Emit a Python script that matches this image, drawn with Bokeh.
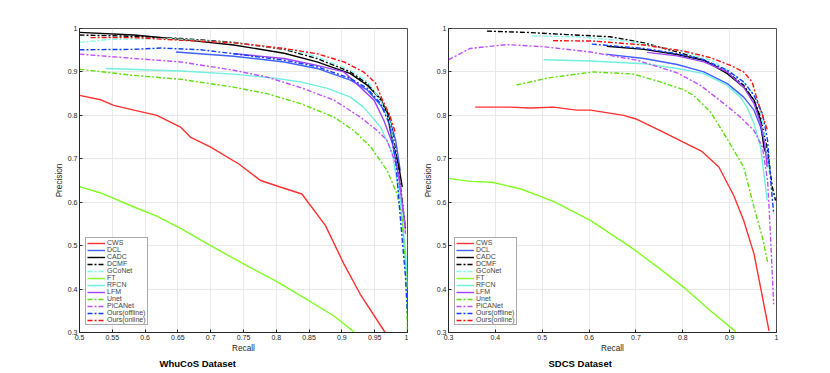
from bokeh.plotting import figure
from bokeh.layouts import row
from bokeh.models import Range1d, FixedTicker, CustomJSTickFormatter, Title
from bokeh.embed import file_html
from bokeh.resources import INLINE

# ---------------- data: WhuCoS dataset (recall / precision) ----------------
WHU_CWS_R = [0.5, 0.532, 0.552, 0.583, 0.618, 0.654, 0.669, 0.70, 0.743, 0.776, 0.806, 0.839, 0.875, 0.903, 0.928, 0.966]
WHU_CWS_P = [0.846, 0.836, 0.823, 0.812, 0.800, 0.773, 0.750, 0.727, 0.688, 0.650, 0.635, 0.619, 0.546, 0.458, 0.388, 0.300]
WHU_DCL_R = [0.647, 0.735, 0.812, 0.862, 0.913, 0.939, 0.959, 0.972, 0.982, 0.989]
WHU_DCL_P = [0.946, 0.936, 0.923, 0.908, 0.881, 0.858, 0.823, 0.796, 0.742, 0.673]
WHU_CADC_R = [0.5, 0.583, 0.654, 0.735, 0.812, 0.862, 0.913, 0.939, 0.959, 0.969, 0.977, 0.987, 0.992]
WHU_CADC_P = [0.991, 0.985, 0.975, 0.962, 0.943, 0.923, 0.896, 0.869, 0.838, 0.804, 0.742, 0.681, 0.635]
WHU_DCMF_R = [0.5, 0.583, 0.654, 0.735, 0.812, 0.862, 0.913, 0.939, 0.959, 0.972, 0.982, 0.992, 0.997]
WHU_DCMF_P = [0.985, 0.982, 0.977, 0.968, 0.952, 0.931, 0.900, 0.873, 0.835, 0.800, 0.719, 0.604, 0.535]
WHU_GCONET_R = [0.5, 0.547, 0.634, 0.735, 0.812, 0.862, 0.913, 0.939, 0.959, 0.974, 0.984, 0.992, 0.997]
WHU_GCONET_P = [0.968, 0.975, 0.977, 0.967, 0.954, 0.935, 0.904, 0.877, 0.835, 0.781, 0.681, 0.565, 0.450]
WHU_FT_R = [0.5, 0.535, 0.583, 0.618, 0.654, 0.70, 0.75, 0.801, 0.837, 0.888, 0.918]
WHU_FT_P = [0.636, 0.620, 0.589, 0.568, 0.540, 0.500, 0.458, 0.417, 0.385, 0.338, 0.302]
WHU_RFCN_R = [0.54, 0.654, 0.735, 0.801, 0.837, 0.878, 0.913, 0.933, 0.959, 0.977, 0.989, 0.997, 1.0]
WHU_RFCN_P = [0.908, 0.902, 0.895, 0.885, 0.877, 0.862, 0.842, 0.819, 0.773, 0.712, 0.604, 0.488, 0.404]
WHU_LFM_R = [0.735, 0.812, 0.862, 0.903, 0.928, 0.949, 0.964, 0.977, 0.987, 0.994, 0.997]
WHU_LFM_P = [0.942, 0.931, 0.915, 0.900, 0.865, 0.835, 0.788, 0.735, 0.658, 0.573, 0.542]
WHU_UNET_R = [0.5, 0.583, 0.654, 0.735, 0.786, 0.837, 0.888, 0.918, 0.944, 0.969, 0.984, 0.992, 0.997, 1.0]
WHU_UNET_P = [0.906, 0.892, 0.883, 0.865, 0.850, 0.827, 0.796, 0.765, 0.727, 0.673, 0.619, 0.558, 0.450, 0.300]
WHU_PICANET_R = [0.5, 0.583, 0.654, 0.735, 0.786, 0.837, 0.888, 0.928, 0.954, 0.969, 0.984, 0.994, 0.997]
WHU_PICANET_P = [0.941, 0.931, 0.923, 0.904, 0.888, 0.864, 0.835, 0.796, 0.765, 0.742, 0.681, 0.573, 0.527]
WHU_OFFLINE_R = [0.5, 0.583, 0.624, 0.685, 0.735, 0.812, 0.862, 0.913, 0.939, 0.959, 0.972, 0.982, 0.989, 0.997, 1.0]
WHU_OFFLINE_P = [0.951, 0.952, 0.955, 0.951, 0.942, 0.927, 0.912, 0.885, 0.862, 0.827, 0.781, 0.696, 0.565, 0.427, 0.342]
WHU_ONLINE_R = [0.517, 0.583, 0.654, 0.735, 0.812, 0.862, 0.903, 0.933, 0.951, 0.961, 0.972, 0.982]
WHU_ONLINE_P = [0.979, 0.979, 0.973, 0.967, 0.954, 0.942, 0.923, 0.900, 0.875, 0.838, 0.804, 0.758]

# ---------------- data: SDCS dataset (recall / precision) ----------------
SD_CWS_R = [0.357, 0.432, 0.475, 0.524, 0.574, 0.603, 0.674, 0.702, 0.752, 0.802, 0.841, 0.877, 0.909, 0.930, 0.952, 0.966, 0.984]
SD_CWS_P = [0.819, 0.819, 0.817, 0.819, 0.812, 0.812, 0.800, 0.791, 0.765, 0.738, 0.717, 0.681, 0.615, 0.558, 0.481, 0.404, 0.304]
SD_DCL_R = [0.635, 0.717, 0.788, 0.845, 0.895, 0.930, 0.952, 0.966, 0.977, 0.984]
SD_DCL_P = [0.941, 0.931, 0.917, 0.900, 0.873, 0.842, 0.812, 0.773, 0.719, 0.681]
SD_CADC_R = [0.638, 0.717, 0.788, 0.845, 0.895, 0.930, 0.952, 0.966, 0.973, 0.980]
SD_CADC_P = [0.959, 0.952, 0.940, 0.927, 0.896, 0.865, 0.835, 0.788, 0.727, 0.704]
SD_DCMF_R = [0.382, 0.467, 0.553, 0.645, 0.717, 0.788, 0.845, 0.895, 0.930, 0.952, 0.966, 0.981, 0.991, 0.998]
SD_DCMF_P = [0.994, 0.991, 0.986, 0.981, 0.967, 0.946, 0.927, 0.900, 0.869, 0.835, 0.796, 0.719, 0.635, 0.604]
SD_GCONET_R = [0.478, 0.574, 0.681, 0.788, 0.859, 0.902, 0.937, 0.959, 0.970, 0.977, 0.984]
SD_GCONET_P = [0.983, 0.981, 0.971, 0.950, 0.927, 0.900, 0.869, 0.835, 0.788, 0.727, 0.665]
SD_FT_R = [0.3, 0.346, 0.393, 0.453, 0.524, 0.603, 0.695, 0.752, 0.802, 0.859, 0.913]
SD_FT_P = [0.655, 0.648, 0.646, 0.631, 0.602, 0.558, 0.492, 0.446, 0.404, 0.350, 0.302]
SD_RFCN_R = [0.503, 0.603, 0.717, 0.788, 0.845, 0.895, 0.923, 0.937, 0.952, 0.966, 0.975, 0.980]
SD_RFCN_P = [0.928, 0.925, 0.919, 0.908, 0.896, 0.869, 0.842, 0.819, 0.781, 0.727, 0.650, 0.604]
SD_LFM_R = [0.724, 0.788, 0.845, 0.895, 0.930, 0.952, 0.966, 0.975, 0.980]
SD_LFM_P = [0.945, 0.937, 0.923, 0.900, 0.865, 0.827, 0.781, 0.735, 0.681]
SD_UNET_R = [0.445, 0.517, 0.610, 0.695, 0.752, 0.802, 0.823, 0.859, 0.888, 0.913, 0.930, 0.952, 0.970, 0.981]
SD_UNET_P = [0.870, 0.887, 0.900, 0.895, 0.877, 0.859, 0.846, 0.808, 0.758, 0.712, 0.681, 0.588, 0.519, 0.462]
SD_PICANET_R = [0.3, 0.346, 0.425, 0.503, 0.603, 0.702, 0.788, 0.838, 0.888, 0.923, 0.952, 0.970, 0.981, 0.987, 0.994]
SD_PICANET_P = [0.928, 0.954, 0.963, 0.958, 0.946, 0.927, 0.898, 0.869, 0.827, 0.796, 0.765, 0.727, 0.650, 0.527, 0.365]
SD_OFFLINE_R = [0.606, 0.717, 0.788, 0.845, 0.895, 0.930, 0.952, 0.970, 0.981, 0.987, 0.994]
SD_OFFLINE_P = [0.964, 0.954, 0.942, 0.928, 0.904, 0.877, 0.846, 0.804, 0.742, 0.658, 0.573]
SD_ONLINE_R = [0.523, 0.610, 0.717, 0.802, 0.859, 0.902, 0.930, 0.948, 0.959, 0.970, 0.981]
SD_ONLINE_P = [0.972, 0.971, 0.962, 0.948, 0.933, 0.915, 0.900, 0.877, 0.835, 0.800, 0.765]

METHODS = ["CWS", "DCL", "CADC", "DCMF", "GCoNet", "FT", "RFCN", "LFM", "Unet", "PiCANet", "Ours(offline)", "Ours(online)"]
COLORS = ["#ff3030", "#4060ff", "#000000", "#000000", "#80ffe8", "#80ff20", "#70f0e0", "#a040ff", "#60e010", "#c050ff", "#1040ff", "#ff1010"]
DASHED = [False, False, False, True, True, False, False, False, True, True, True, True]

WHU_SERIES = [(WHU_CWS_R, WHU_CWS_P), (WHU_DCL_R, WHU_DCL_P), (WHU_CADC_R, WHU_CADC_P), (WHU_DCMF_R, WHU_DCMF_P),
              (WHU_GCONET_R, WHU_GCONET_P), (WHU_FT_R, WHU_FT_P), (WHU_RFCN_R, WHU_RFCN_P), (WHU_LFM_R, WHU_LFM_P),
              (WHU_UNET_R, WHU_UNET_P), (WHU_PICANET_R, WHU_PICANET_P), (WHU_OFFLINE_R, WHU_OFFLINE_P), (WHU_ONLINE_R, WHU_ONLINE_P)]
SD_SERIES = [(SD_CWS_R, SD_CWS_P), (SD_DCL_R, SD_DCL_P), (SD_CADC_R, SD_CADC_P), (SD_DCMF_R, SD_DCMF_P),
             (SD_GCONET_R, SD_GCONET_P), (SD_FT_R, SD_FT_P), (SD_RFCN_R, SD_RFCN_P), (SD_LFM_R, SD_LFM_P),
             (SD_UNET_R, SD_UNET_P), (SD_PICANET_R, SD_PICANET_P), (SD_OFFLINE_R, SD_OFFLINE_P), (SD_ONLINE_R, SD_ONLINE_P)]

WHU_XTICKS = [0.5, 0.55, 0.6, 0.65, 0.7, 0.75, 0.8, 0.85, 0.9, 0.95, 1.0]
SD_XTICKS = [0.3, 0.4, 0.5, 0.6, 0.7, 0.8, 0.9, 1.0]
YTICKS = [0.3, 0.4, 0.5, 0.6, 0.7, 0.8, 0.9, 1.0]

FONT = "Liberation Sans"
AXC = "#262626"


def make_panel(series, xr, xticks, title, width, bl, br, title_offset):
    p = figure(width=width, height=370, x_range=Range1d(*xr), y_range=Range1d(0.3, 1.0),
               output_backend="svg", toolbar_location=None,
               min_border_left=bl, min_border_right=br, min_border_top=28, min_border_bottom=38)
    p.outline_line_color = AXC
    p.outline_line_width = 0.8
    for ax in (p.xaxis[0], p.yaxis[0]):
        ax.major_tick_in = 3
        ax.major_tick_out = 0
        ax.minor_tick_in = 0
        ax.minor_tick_out = 0
        ax.axis_line_color = AXC
        ax.major_tick_line_color = AXC
        ax.major_label_text_font = FONT
        ax.major_label_text_font_size = "7px"
        ax.major_label_text_color = AXC
        ax.axis_label_text_font = FONT
        ax.axis_label_text_font_size = "8.2px"
        ax.axis_label_text_font_style = "normal"
        ax.axis_label_text_color = AXC
        ax.major_label_standoff = 2
        ax.axis_label_standoff = 1
        ax.formatter = CustomJSTickFormatter(code="return String(+tick.toFixed(2));")
    p.xaxis[0].ticker = FixedTicker(ticks=xticks)
    p.yaxis[0].ticker = FixedTicker(ticks=YTICKS)
    p.xaxis[0].axis_label = "Recall"
    p.yaxis[0].axis_label = "Precision"
    p.grid.grid_line_color = "#e3e3e3"
    p.grid.grid_line_width = 0.8

    for (r, pr), name, col, dsh in zip(series, METHODS, COLORS, DASHED):
        p.line(r, pr, line_color=col, line_width=1.4,
               line_dash="5 2 2 2" if dsh else "solid", legend_label=name)

    lg = p.legend[0]
    lg.location = (6, 7)
    lg.margin = 0
    lg.padding = 1
    lg.spacing = 0
    lg.label_height = 6
    lg.glyph_height = 6
    lg.glyph_width = 18
    lg.label_standoff = 2
    lg.label_text_font = FONT
    lg.label_text_font_size = "7px"
    lg.label_text_line_height = 0.95
    lg.border_line_color = "#555555"
    lg.border_line_width = 1
    lg.background_fill_alpha = 1.0

    t = Title(text=title, align="left", offset=title_offset, text_font=FONT, standoff=0,
              text_font_size="9.5px", text_font_style="bold", text_color="#000000")
    p.add_layout(t, "below")
    return p


p1 = make_panel(WHU_SERIES, (0.5, 1.0), WHU_XTICKS, "WhuCoS Dataset", 408, 79, 1, 80)
p2 = make_panel(SD_SERIES, (0.3, 1.0), SD_XTICKS, "SDCS Dataset", 408, 40, 40, 100)

layout = row(p1, p2)
open("out.html", "w").write(file_html(layout, INLINE))
